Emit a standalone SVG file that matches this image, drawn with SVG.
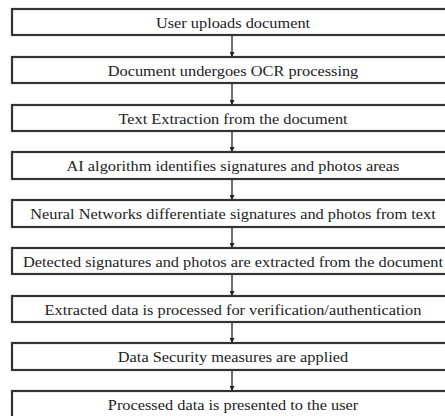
<svg xmlns="http://www.w3.org/2000/svg" width="445" height="416" viewBox="0 0 445 416">
<defs>
<style>
.box{fill:#fff;stroke:#333;stroke-width:2.2}
.t{font-family:'Liberation Serif','Times New Roman',serif;font-size:15px;fill:#222;text-anchor:middle}
.c{stroke:#222;stroke-width:1.3;fill:none}
</style>
<marker id="ah" viewBox="0 0 6 6" refX="6" refY="3" markerWidth="5" markerHeight="5" orient="auto" markerUnits="userSpaceOnUse">
<path d="M0,0 L6,3 L0,6 Z" fill="#222"/>
</marker>
</defs>
<rect width="445" height="416" fill="#fff"/>
<g id="connectors">
<line class="c" x1="232" y1="35" x2="232" y2="57" marker-end="url(#ah)"/>
<line class="c" x1="232" y1="83" x2="232" y2="105" marker-end="url(#ah)"/>
<line class="c" x1="232" y1="131" x2="232" y2="152" marker-end="url(#ah)"/>
<line class="c" x1="232" y1="179" x2="232" y2="200" marker-end="url(#ah)"/>
<line class="c" x1="232" y1="227" x2="232" y2="248" marker-end="url(#ah)"/>
<line class="c" x1="232" y1="274" x2="232" y2="296" marker-end="url(#ah)"/>
<line class="c" x1="232" y1="322" x2="232" y2="343" marker-end="url(#ah)"/>
<line class="c" x1="232" y1="370" x2="232" y2="391" marker-end="url(#ah)"/>
</g>
<g id="n1"><rect class="box" x="12" y="9" width="440" height="26"/><text class="t" transform="translate(233 27.5) scale(1.09 1)">User uploads document</text></g>
<g id="n2"><rect class="box" x="12" y="57" width="440" height="26"/><text class="t" transform="translate(233 75.5) scale(1.09 1)">Document undergoes OCR processing</text></g>
<g id="n3"><rect class="box" x="12" y="105" width="440" height="26"/><text class="t" transform="translate(233 123.5) scale(1.09 1)">Text Extraction from the document</text></g>
<g id="n4"><rect class="box" x="12" y="152" width="440" height="27"/><text class="t" transform="translate(233 170.5) scale(1.09 1)">AI algorithm identifies signatures and photos areas</text></g>
<g id="n5"><rect class="box" x="12" y="200" width="440" height="27"/><text class="t" transform="translate(233 218.5) scale(1.09 1)">Neural Networks differentiate signatures and photos from text</text></g>
<g id="n6"><rect class="box" x="12" y="248" width="440" height="26"/><text class="t" transform="translate(233 266.5) scale(1.09 1)">Detected signatures and photos are extracted from the document</text></g>
<g id="n7"><rect class="box" x="12" y="296" width="440" height="26"/><text class="t" transform="translate(233 314.5) scale(1.09 1)">Extracted data is processed for verification/authentication</text></g>
<g id="n8"><rect class="box" x="12" y="343" width="440" height="27"/><text class="t" transform="translate(233 361.5) scale(1.09 1)">Data Security measures are applied</text></g>
<g id="n9"><rect class="box" x="12" y="391" width="440" height="30"/><text class="t" transform="translate(233 409.5) scale(1.09 1)">Processed data is presented to the user</text></g>
</svg>
